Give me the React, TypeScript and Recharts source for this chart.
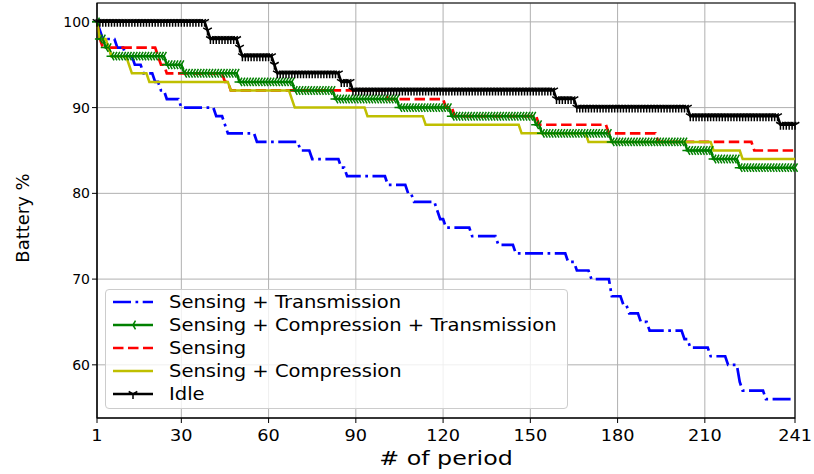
import React from "react";
import {
  LineChart,
  Line,
  XAxis,
  YAxis,
  CartesianGrid,
  ReferenceArea,
  Label,
} from "recharts";

// x categories: period index 1..241
const periods = Array.from({ length: 241 }, (_, i) => i + 1);
const xTicks = [1, 30, 60, 90, 120, 150, 180, 210, 241];
const yTicks = [60, 70, 80, 90, 100];

// [first period, battery %] - each level holds until the next entry
const sensTxSteps = [
  [1, 100], [2, 99], [3, 98], [8, 97], [11, 96], [14, 95], [17, 94], [21, 93],
  [23, 92], [25, 91], [30, 90], [42, 89], [45, 88], [46, 87], [56, 86], [71, 85],
  [75, 84], [85, 83], [87, 82], [101, 81], [108, 80], [110, 79], [118, 78],
  [119, 77], [121, 76], [130, 75], [139, 74], [145, 73], [163, 72], [166, 71],
  [171, 70], [178, 68], [182, 67], [184, 66], [188, 65], [191, 64], [203, 63],
  [205, 62], [212, 61], [218, 60], [222, 58], [223, 57], [231, 56],
];
const sensCompTxSteps = [
  [1, 100], [2, 98], [4, 97], [6, 96], [25, 95], [31, 94], [50, 93], [69, 92],
  [83, 91], [105, 90], [123, 89], [152, 88], [154, 87], [178, 86], [204, 85],
  [213, 84], [222, 83],
];
const sensingSteps = [
  [1, 100], [2, 98], [3, 97], [22, 96], [23, 95], [25, 94], [45, 93], [47, 92],
  [101, 91], [121, 90], [124, 89], [153, 88], [177, 87], [194, 86], [227, 85],
];
const sensCompSteps = [
  [1, 100], [2, 98], [5, 97], [6, 96], [12, 95], [13, 94], [19, 93], [47, 92],
  [68, 91], [69, 90], [94, 89], [114, 88], [147, 87], [170, 86], [213, 85],
  [223, 84],
];
const idleSteps = [
  [1, 100], [39, 99], [40, 98], [50, 97], [51, 96], [62, 95], [63, 94], [85, 93],
  [89, 92], [159, 91], [166, 90], [205, 89], [236, 88],
];

const levelAt = (steps: number[][], p: number) => {
  let v = steps[0][1];
  for (const [start, val] of steps) if (start <= p) v = val;
  return v;
};

const data = periods.map((p) => ({
  period: p,
  sensTx: levelAt(sensTxSteps, p),
  sensCompTx: levelAt(sensCompTxSteps, p),
  sensing: levelAt(sensingSteps, p),
  sensComp: levelAt(sensCompSteps, p),
  idle: levelAt(idleSteps, p),
}));

const FONT = "DejaVu Sans, sans-serif";
const SX = 1.18; // source picture is stretched sideways
const R = 5;

const triLeft = (cx: number, cy: number) =>
  `M${cx},${cy}L${cx - R},${cy}M${cx},${cy}L${cx + R * 0.5},${cy - R * 0.866}M${cx},${cy}L${cx + R * 0.5},${cy + R * 0.866}`;
const triDown = (cx: number, cy: number) =>
  `M${cx},${cy}L${cx},${cy + R}M${cx},${cy}L${cx - R * 0.866},${cy - R * 0.5}M${cx},${cy}L${cx + R * 0.866},${cy - R * 0.5}`;

const greenDot = (props: any) => (
  <path key={`g${props.index}`} d={triLeft(props.cx, props.cy)} stroke="#008000" strokeWidth={1.5} fill="none" />
);
const blackDot = (props: any) => (
  <path key={`k${props.index}`} d={triDown(props.cx, props.cy)} stroke="#000" strokeWidth={1.5} fill="none" />
);

const XTick = ({ x, y, payload }: any) => (
  <g transform={`translate(${x},${y + 16})`}>
    <text transform={`scale(${SX},1)`} textAnchor="middle" fontFamily={FONT} fontSize={15} fill="#000">
      {payload.value}
    </text>
  </g>
);
const YTick = ({ x, y, payload }: any) => (
  <text x={x} y={y + 5} textAnchor="end" fontFamily={FONT} fontSize={14} fill="#000">
    {payload.value}
  </text>
);

const legendItems = [
  { name: "Sensing + Transmission", color: "#0000ff", dash: "18 4.5 2.7 4.5", marker: null },
  { name: "Sensing + Compression + Transmission", color: "#008000", dash: undefined, marker: triLeft },
  { name: "Sensing", color: "#ff0000", dash: "10.5 4.5", marker: null },
  { name: "Sensing + Compression", color: "#bfbf00", dash: undefined, marker: null },
  { name: "Idle", color: "#000000", dash: undefined, marker: triDown },
];

function LegendBox() {
  return (
    <div
      style={{
        position: "absolute",
        left: 105,
        top: 289,
        width: 463,
        height: 120,
        boxSizing: "border-box",
        border: "1px solid #cccccc",
        borderRadius: 4,
        background: "rgba(255,255,255,0.8)",
      }}
    >
      <svg width={461} height={118}>
        {legendItems.map((item, i) => {
          const cy = 12 + i * 23;
          return (
            <g key={item.name}>
              <line x1={7} x2={47} y1={cy} y2={cy} stroke={item.color} strokeWidth={2.7} strokeDasharray={item.dash} />
              {item.marker && (
                <path d={item.marker(27, cy)} stroke={item.color} strokeWidth={1.5} fill="none" />
              )}
              <g transform={`translate(63,${cy + 6})`}>
                <text transform={`scale(1.15,1)`} fontFamily={FONT} fontSize={17} fill="#000">
                  {item.name}
                </text>
              </g>
            </g>
          );
        })}
      </svg>
    </div>
  );
}

export default function App() {
  return (
    <div style={{ position: "absolute", left: 0, top: 0, width: 814, height: 474, background: "#fff" }}>
      <LineChart width={814} height={474} data={data} margin={{ top: 3, right: 19, bottom: 0, left: 0 }}>
        <CartesianGrid stroke="#b0b0b0" strokeWidth={1} />
        <XAxis
          type="number"
          dataKey="period"
          domain={[1, 241]}
          ticks={xTicks}
          interval={0}
          height={56}
          tickSize={5}
          tick={<XTick />}
          axisLine={{ stroke: "#000" }}
          tickLine={{ stroke: "#000" }}
        >
          <Label
            content={({ viewBox }: any) => (
              <g transform={`translate(${viewBox.x + viewBox.width / 2},${viewBox.y + 47})`}>
                <text transform={`scale(1.25,1)`} textAnchor="middle" fontFamily={FONT} fontSize={19} fill="#000">
                  # of period
                </text>
              </g>
            )}
          />
        </XAxis>
        <YAxis
          type="number"
          domain={[53.8, 102.2]}
          allowDataOverflow
          ticks={yTicks}
          interval={0}
          width={97}
          tickSize={5}
          tick={<YTick />}
          axisLine={{ stroke: "#000" }}
          tickLine={{ stroke: "#000" }}
        />
        <Line dataKey="sensTx" stroke="#0000ff" strokeWidth={2.7} strokeDasharray="18 4.5 2.7 4.5" dot={false} activeDot={false} isAnimationActive={false} />
        <Line dataKey="sensCompTx" stroke="#008000" strokeWidth={2.5} dot={greenDot} activeDot={false} isAnimationActive={false} />
        <Line dataKey="sensing" stroke="#ff0000" strokeWidth={2.7} strokeDasharray="10.5 4.5" dot={false} activeDot={false} isAnimationActive={false} />
        <Line dataKey="sensComp" stroke="#bfbf00" strokeWidth={2.5} dot={false} activeDot={false} isAnimationActive={false} />
        <Line dataKey="idle" stroke="#000000" strokeWidth={2.5} dot={blackDot} activeDot={false} isAnimationActive={false} />
        <ReferenceArea x1={1} x2={241} y1={53.8} y2={102.2} fill="none" stroke="#000" strokeWidth={1.2} ifOverflow="visible" />
      </LineChart>
      <svg width={40} height={474} style={{ position: "absolute", left: 0, top: 0 }}>
        <g transform="translate(29,218) rotate(-90)">
          <text textAnchor="middle" fontFamily={FONT} fontSize={18} fill="#000">
            Battery %
          </text>
        </g>
      </svg>
      <LegendBox />
    </div>
  );
}
